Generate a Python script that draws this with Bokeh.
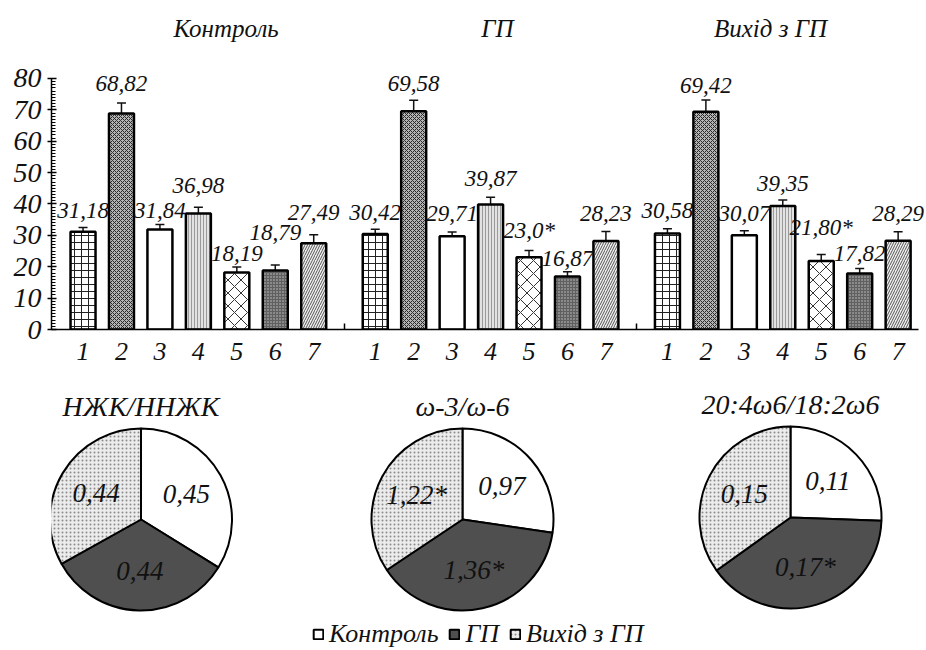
import math
from bokeh.plotting import figure
from bokeh.models import (Range1d, FixedTicker, ColumnDataSource, Whisker, TeeHead,
                          Legend, LegendItem)
from bokeh.layouts import column
from bokeh.core.properties import value
from bokeh.embed import file_html
from bokeh.resources import INLINE

# ---------------- data ----------------
groups = ["Контроль", "ГП", "Вихід з ГП"]
categories = ["1", "2", "3", "4", "5", "6", "7"]
y_ticks = [0, 10, 20, 30, 40, 50, 60, 70, 80]

control_vals = [31.18, 68.82, 31.84, 36.98, 18.19, 18.79, 27.49]
gp_vals = [30.42, 69.58, 29.71, 39.87, 23.0, 16.87, 28.23]
exit_vals = [30.58, 69.42, 30.07, 39.35, 21.80, 17.82, 28.29]

control_err = [1.3, 3.4, 1.6, 2.0, 1.7, 1.8, 2.7]
gp_err = [1.5, 3.5, 1.4, 2.3, 2.2, 1.5, 3.0]
exit_err = [1.5, 3.7, 1.4, 1.9, 2.1, 1.6, 2.9]

control_labels = ["31,18", "68,82", "31,84", "36,98", "18,19", "18,79", "27,49"]
gp_labels = ["30,42", "69,58", "29,71", "39,87", "23,0*", "16,87", "28,23"]
exit_labels = ["30,58", "69,42", "30,07", "39,35", "21,80*", "17,82", "28,29"]

pie_titles = ["НЖК/ННЖК", "ω-3/ω-6", "20:4ω6/18:2ω6"]
pie_control = [0.45, 0.97, 0.11]
pie_gp = [0.44, 1.36, 0.17]
pie_exit = [0.44, 1.22, 0.15]
pie_control_labels = ["0,45", "0,97", "0,11"]
pie_gp_labels = ["0,44", "1,36*", "0,17*"]
pie_exit_labels = ["0,44", "1,22*", "0,15"]
legend_labels = ["Контроль", "ГП", "Вихід з ГП"]

# ---------------- layout / style ----------------
FONT = value("Liberation Serif")
W, H_TOP, H_PIE = 926, 378, 272
LEFT = 51
GROUP_STEP = 38
BAR_STEP = 5
BAR_W = 3.25
label_lift = [
    [6.7, 9.6, 6.1, 8.9, 6.0, 12.1, 9.8],
    [6.9, 8.8, 7.3, 8.2, 8.6, 5.7, 8.8],
    [7.3, 8.4, 6.9, 7.2, 10.7, 6.4, 8.7],
]
title_dx = [3.6, 0.9, -1.6]
TITLE_Y = 95.9
bar_styles = [
    dict(fill="white", hatch="cross", hcolor="#222222", hscale=7.0),
    dict(fill="#b4b4b4", hatch="diagonal_cross", hcolor="#2a2a2a", hscale=4.0),
    dict(fill="white", hatch=" ", hcolor="black", hscale=6.0),
    dict(fill="#e2e2e2", hatch="vertical_line", hcolor="#9a9a9a", hscale=3.0),
    dict(fill="white", hatch="diagonal_cross", hcolor="#333333", hscale=13.0),
    dict(fill="#8a8a8a", hatch="cross", hcolor="#606060", hscale=3.0),
    dict(fill="#efefef", hatch="right_diagonal_line", hcolor="#555555", hscale=5.0),
]

# ---------------- bar chart ----------------
series = [(control_vals, control_err, control_labels),
          (gp_vals, gp_err, gp_labels),
          (exit_vals, exit_err, exit_labels)]
cols = {k: [] for k in ["x", "top", "upper", "lower", "label", "label_y",
                        "fill", "hatch", "hcolor", "hscale"]}
tick_pos, tick_over = [], {}
for g, (vals, errs, lbls) in enumerate(series):
    for i in range(len(categories)):
        x = GROUP_STEP * g + BAR_STEP * (i + 1)
        st = bar_styles[i]
        cols["x"].append(x)
        cols["top"].append(vals[i])
        cols["upper"].append(vals[i] + errs[i])
        cols["lower"].append(vals[i] - errs[i])
        cols["label"].append(lbls[i])
        cols["label_y"].append(vals[i] + label_lift[g][i])
        cols["fill"].append(st["fill"])
        cols["hatch"].append(st["hatch"])
        cols["hcolor"].append(st["hcolor"])
        cols["hscale"].append(st["hscale"])
        tick_pos.append(x)
        tick_over[x] = categories[i]
src = ColumnDataSource(cols)
separators = [GROUP_STEP * g + BAR_STEP * len(categories) + (GROUP_STEP - BAR_STEP * len(categories) + BAR_STEP) / 2
              for g in range(len(groups) - 1)]

X0, X1 = 0.9, 114.69
p = figure(width=W, height=H_TOP, x_range=Range1d(X0, X1), y_range=Range1d(0, 104.86),
           output_backend="svg", toolbar_location=None,
           min_border_left=LEFT, min_border_right=0, min_border_top=0, min_border_bottom=49)
p.outline_line_color = None
p.grid.visible = False

p.vbar(x="x", top="top", width=BAR_W, source=src, fill_color="fill",
       hatch_pattern="hatch", hatch_color="hcolor", hatch_scale="hscale", hatch_weight=1,
       line_color="black", line_width=2.5)
p.add_layout(Whisker(source=src, base="x", upper="upper", lower="lower",
                     line_color="#111111", line_width=1.5,
                     upper_head=TeeHead(size=9, line_width=1.5, line_color="#111111"),
                     lower_head=TeeHead(size=9, line_width=1.5, line_color="#111111")))
p.text(x="x", y="label_y", text="label", source=src, text_align="center",
       text_baseline="middle", text_font=FONT, text_font_style="italic",
       text_font_size="23px", text_color="#111111")
p.text(x=[GROUP_STEP * g + BAR_STEP * 4 + title_dx[g] for g in range(len(groups))],
       y=[TITLE_Y] * len(groups), text=groups, text_align="center", text_baseline="middle",
       text_font=FONT, text_font_style="italic", text_font_size="25px", text_color="#111111")

ya = p.yaxis[0]
ya.ticker = FixedTicker(ticks=y_ticks, minor_ticks=list(range(y_ticks[0], y_ticks[-1] + 1)))
ya.bounds = (y_ticks[0], y_ticks[-1])
ya.major_label_text_font = "Liberation Serif"
ya.major_label_text_font_style = "italic"
ya.major_label_text_font_size = "28px"
ya.major_label_text_color = "#111111"
ya.major_label_standoff = 6
ya.major_tick_in = 5
ya.major_tick_out = 4
ya.minor_tick_in = 4
ya.minor_tick_out = 0
ya.axis_line_width = 1.5
ya.major_tick_line_width = 1.5

xa = p.xaxis[0]
xa.ticker = FixedTicker(ticks=tick_pos, minor_ticks=separators)
xa.major_label_overrides = tick_over
xa.bounds = (X0, 113.65)
xa.major_label_text_font = "Liberation Serif"
xa.major_label_text_font_style = "italic"
xa.major_label_text_font_size = "26px"
xa.major_label_text_color = "#111111"
xa.major_label_standoff = 13
xa.major_tick_in = 0
xa.major_tick_out = 0
xa.minor_tick_in = 6
xa.minor_tick_out = 0
xa.minor_tick_line_width = 1.5
xa.axis_line_width = 1.5

# ---------------- pies ----------------
q = figure(width=W, height=H_PIE, x_range=Range1d(LEFT, W), y_range=Range1d(-(H_TOP + H_PIE), -H_TOP),
           output_backend="svg", toolbar_location=None,
           min_border_left=LEFT, min_border_right=0, min_border_top=0, min_border_bottom=0,
           x_axis_type=None, y_axis_type=None)
q.outline_line_color = None
q.grid.visible = False

pie_cx = [140.5, 462, 790]
pie_cy = [-519, -519, -517]
PIE_R = 91
LABEL_R = 52
slice_styles = [
    dict(fill="white", hatch=" ", hcolor="black"),
    dict(fill="#4f4f4f", hatch=" ", hcolor="black"),
    dict(fill="#ececec", hatch="dot", hcolor="#8a8a8a"),
]
w = {k: [] for k in ["x", "y", "s", "e", "fill", "hatch", "hcolor"]}
t = {k: [] for k in ["x", "y", "text"]}
for k in range(len(pie_titles)):
    vals = [pie_control[k], pie_gp[k], pie_exit[k]]
    lbls = [pie_control_labels[k], pie_gp_labels[k], pie_exit_labels[k]]
    total = sum(vals)
    ang = math.pi / 2
    for j, v in enumerate(vals):
        span = 2 * math.pi * v / total
        st = slice_styles[j]
        w["x"].append(pie_cx[k]); w["y"].append(pie_cy[k])
        w["s"].append(ang - span); w["e"].append(ang)
        w["fill"].append(st["fill"]); w["hatch"].append(st["hatch"]); w["hcolor"].append(st["hcolor"])
        mid = ang - span / 2
        t["x"].append(pie_cx[k] + LABEL_R * math.cos(mid))
        t["y"].append(pie_cy[k] + LABEL_R * math.sin(mid))
        t["text"].append(lbls[j])
        ang -= span
wedges = q.wedge(x="x", y="y", radius=PIE_R, start_angle="s", end_angle="e", source=ColumnDataSource(w),
                 fill_color="fill", hatch_pattern="hatch", hatch_color="hcolor", hatch_scale=4, hatch_weight=1,
                 line_color="black", line_width=2)
q.text(x="x", y="y", text="text", source=ColumnDataSource(t), text_align="center",
       text_baseline="middle", text_font=FONT, text_font_style="italic", text_font_size="27px",
       text_color="#111111")
q.text(x=pie_cx, y=[c + PIE_R + 22 for c in pie_cy], text=pie_titles, text_align="center",
       text_baseline="middle", text_font=FONT, text_font_style="italic", text_font_size="28px",
       text_color="#111111")

items = [LegendItem(label=lab, renderers=[wedges], index=j) for j, lab in enumerate(legend_labels)]
legend = Legend(items=items, orientation="horizontal", location=(261, 1),
                label_text_font="Liberation Serif", label_text_font_style="italic",
                label_text_font_size="26px", label_text_color="#111111",
                glyph_width=12, glyph_height=12, spacing=10, padding=0, margin=0,
                label_standoff=5, border_line_color=None, background_fill_alpha=0)
q.add_layout(legend)

layout = column(p, q, spacing=0)
open("out.html", "w").write(file_html(layout, INLINE))
